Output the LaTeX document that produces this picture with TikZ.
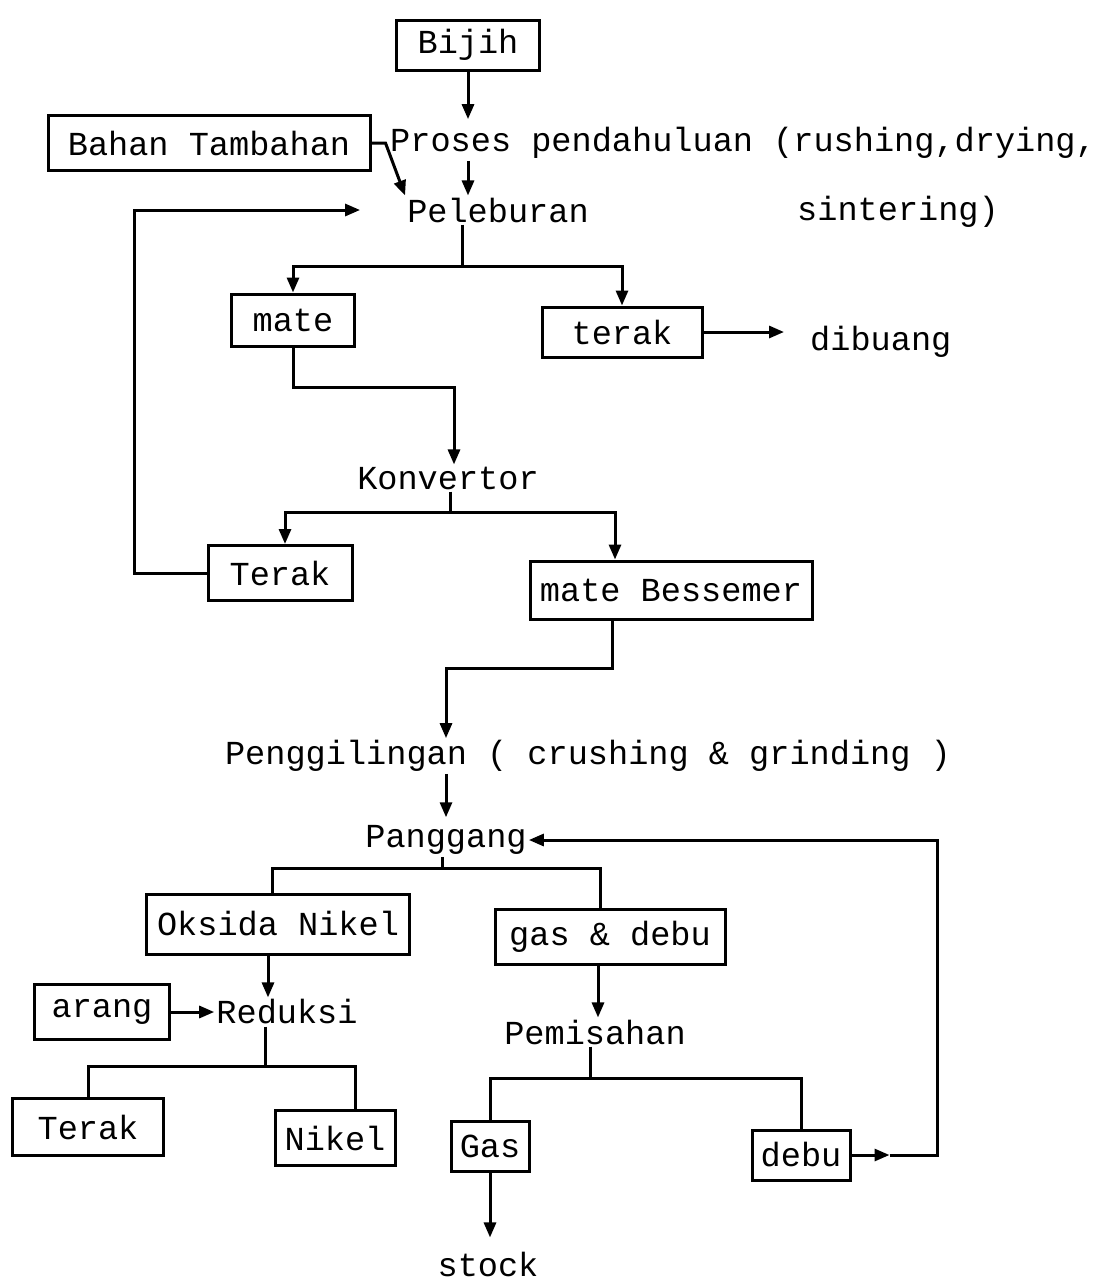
\documentclass[tikz,border=0pt]{standalone}
\usepackage{fontspec}
\setmonofont{Liberation Mono}
\usetikzlibrary{arrows.meta}
\begin{document}
\begin{tikzpicture}[x=1pt,y=-1pt,
  every node/.style={font=\fontsize{33.6}{40}\selectfont\ttfamily},
  box/.style={draw, line width=3pt, inner sep=0pt, minimum height=52pt},
  txt/.style={inner sep=2pt},
  ln/.style={line width=3pt},
  arr/.style={ln, -{Triangle[length=15pt,width=12pt]}}]
\fill[white] (0,0) rectangle (1109,1283);
\useasboundingbox (0,0) rectangle (1109,1283);

\node[box,minimum width=143pt,minimum height=50pt] (bijih) at (468,45) {Bijih};
\node[txt,anchor=west] (proses) at (388,143) {Proses pendahuluan (rushing,drying,};
\node[box,minimum width=322pt,minimum height=55pt] (bahan) at (209,143) {Bahan Tambahan};
\node[txt] (peleburan) at (498,210) {Peleburan};
\node[txt,anchor=west] (sinter) at (795,212) {sintering)};
\node[box,minimum width=123pt] (mate) at (293,320) {mate};
\node[box,minimum width=160pt,minimum height=50pt] (terak1) at (622,332) {terak};
\node[txt,anchor=west] (dibuang) at (808,342) {dibuang};
\node[txt] (konvertor) at (448,478) {Konvertor};
\node[box,minimum width=144pt,minimum height=55pt] (terak2) at (280,573) {Terak};
\node[box,minimum width=282pt,minimum height=58pt] (bessemer) at (671,590) {mate Bessemer};
\node[txt] (penggil) at (588,756) {Penggilingan ( crushing \& grinding )};
\node[txt] (panggang) at (446,840) {Panggang};
\node[box,minimum width=263pt,minimum height=60pt] (oksida) at (278,924) {Oksida Nikel};
\node[box,minimum width=230pt,minimum height=55pt] (gasdebu) at (610,937) {gas \& debu};
\node[box,minimum width=135pt,minimum height=55pt] (arang) at (102,1012) {arang};
\node[txt] (reduksi) at (287,1012) {Reduksi};
\node[box,minimum width=151pt,minimum height=57pt] (terak3) at (88,1127) {Terak};
\node[box,minimum width=120pt,minimum height=55pt] (nikel) at (335,1138) {Nikel};
\node[txt] (pemisahan) at (595,1032) {Pemisahan};
\node[box,minimum width=78pt,minimum height=50pt] (gas) at (490,1146) {Gas};
\node[box,minimum width=98pt,minimum height=50pt] (debu) at (801,1155) {debu};
\node[txt] (stock) at (488,1264) {stock};

% top
\draw[arr,shorten >=6pt] (bijih.south) -- (bijih.south |- proses.north);
\draw[arr] (bijih.south |- proses.south) -- (bijih.south |- peleburan.north);
\draw[arr] (bahan.east) -- ++(14,0) -- (peleburan.north west);
\draw[arr] (terak2.west) -- ++(-72,0) |- ([xshift=-45pt]peleburan.west);

% peleburan split
\coordinate (j1) at (462,266);
\draw[ln] (j1 |- peleburan.south) -- (j1);
\draw[arr] (j1) -| (mate.north);
\draw[arr] (j1) -| (terak1.north);
\draw[arr,shorten >=24pt] (terak1.east) -- (terak1.east -| dibuang.west);

% mate to konvertor
\draw[arr] (mate.south) -- ++(0,40) -| ([xshift=6pt]konvertor.north);

% konvertor split
\coordinate (j2) at (450,512);
\draw[ln] (j2 |- konvertor.south) -- (j2);
\draw[arr] (j2) -| ([xshift=5pt]terak2.north);
\draw[arr] (j2) -| ([xshift=-56pt]bessemer.north);

% bessemer to penggilingan
\draw[arr] ([xshift=-59pt]bessemer.south) -- ++(0,48) -| ([xshift=-142pt]penggil.north);
\draw[arr,shorten >=6pt] (panggang.north |- penggil.south) -- (panggang.north);

% panggang split
\coordinate (j3) at (442,868);
\draw[ln] (j3 |- panggang.south) -- (j3);
\draw[ln] (j3) -| ([xshift=-6pt]oksida.north);
\draw[ln] (j3) -| ([xshift=-10pt]gasdebu.north);

% reduksi
\draw[arr] ([xshift=-10pt]oksida.south) -- ([xshift=-19pt]reduksi.north);
\draw[arr] (arang.east) -- (reduksi.west);
\coordinate (j4) at (265,1066);
\draw[ln] (j4 |- reduksi.south) -- (j4);
\draw[ln] (j4) -| (terak3.north);
\draw[ln] (j4) -| ([xshift=20pt]nikel.north);

% pemisahan
\draw[arr] ([xshift=-12pt]gasdebu.south) -- ([xshift=3pt]pemisahan.north);
\coordinate (j5) at (590,1078);
\draw[ln] (j5 |- pemisahan.south) -- (j5);
\draw[ln] (j5) -| (gas.north);
\draw[ln] (j5) -| (debu.north);
\draw[arr,shorten >=12pt] (gas.south) -- (gas.south |- stock.north);

% debu feedback
\draw[arr] (debu.east) -- ++(38,0) coordinate (d1);
\draw[arr] (d1) -- ++(48,0) |- (panggang.east);
\end{tikzpicture}
\end{document}
